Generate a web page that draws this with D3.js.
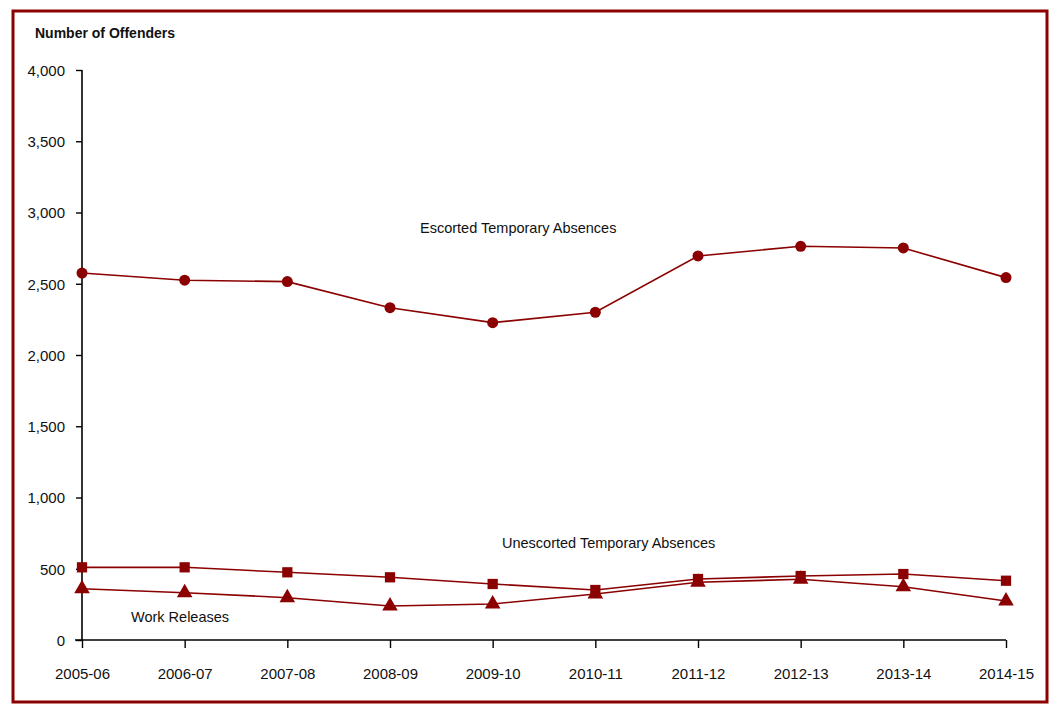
<!DOCTYPE html>
<html>
<head>
<meta charset="utf-8">
<script src="https://cdn.jsdelivr.net/npm/d3@7"></script>
<style>
  body { margin: 0; background: #fff; }
  svg text { font-family: "Liberation Sans", Arial, sans-serif; fill: #111; }
</style>
</head>
<body>
<div class="chart-container"></div>
<script>
var years = ["2005-06", "2006-07", "2007-08", "2008-09", "2009-10",
             "2010-11", "2011-12", "2012-13", "2013-14", "2014-15"];
var escorted = [2575, 2525, 2515, 2332, 2227, 2300, 2695, 2763, 2751, 2543];
var unescorted = [510, 510, 475, 440, 393, 351, 428, 449, 463, 416];
var workReleases = [360, 332, 297, 239, 253, 323, 405, 426, 374, 274];
var yTicks = [0, 500, 1000, 1500, 2000, 2500, 3000, 3500, 4000];

var color = "#8b0000";
var width = 1055, height = 712;
var margin = {top: 70, right: 49, bottom: 72, left: 82};

var svg = d3.select("div.chart-container")
  .append("svg")
  .attr("width", width)
  .attr("height", height);

// frame
svg.append("rect")
  .attr("x", 13).attr("y", 11)
  .attr("width", 1034).attr("height", 691)
  .attr("fill", "none")
  .attr("stroke", color)
  .attr("stroke-width", 3);

var x = d3.scalePoint()
  .domain(years)
  .range([margin.left, width - margin.right]);
var y = d3.scaleLinear()
  .domain([0, 4000])
  .range([height - margin.bottom, margin.top]);

// y axis
var yAxis = svg.append("g")
  .attr("transform", "translate(" + margin.left + ",0)")
  .call(d3.axisLeft(y).tickValues(yTicks).tickFormat(d3.format(",")).tickSize(6).tickPadding(11));
yAxis.select(".domain").attr("stroke", "#000").attr("stroke-width", 1.6).attr("d", "M0," + y(4000) + "V" + y(0));
yAxis.selectAll(".tick line").attr("stroke", "#000").attr("stroke-width", 1.4);
yAxis.selectAll("text").style("font-size", "15px").attr("dy", "0.35em");

// x axis
var xAxis = svg.append("g")
  .attr("transform", "translate(0," + y(0) + ")")
  .call(d3.axisBottom(x).tickSize(8).tickPadding(20));
xAxis.select(".domain").attr("stroke", "#000").attr("stroke-width", 1.6)
  .attr("d", "M" + (margin.left - 7) + ",0H" + x(years[years.length - 1]));
xAxis.selectAll(".tick line").attr("stroke", "#000").attr("stroke-width", 1.4);
xAxis.selectAll("text").style("font-size", "15px");

// title
svg.append("text")
  .attr("x", 35).attr("y", 38)
  .style("font-size", "14px")
  .style("font-weight", "bold")
  .text("Number of Offenders");

var line = d3.line()
  .x(function(d, i) { return x(years[i]); })
  .y(function(d) { return y(d); });

function drawSeries(values, symbolType, size) {
  svg.append("path")
    .datum(values)
    .attr("fill", "none")
    .attr("stroke", color)
    .attr("stroke-width", 1.6)
    .attr("d", line);
  svg.selectAll(null)
    .data(values)
    .enter()
    .append("path")
    .attr("transform", function(d, i) { return "translate(" + x(years[i]) + "," + y(d) + ")"; })
    .attr("d", d3.symbol().type(symbolType).size(size))
    .attr("fill", color);
}

drawSeries(escorted, d3.symbolCircle, 95);
drawSeries(unescorted, d3.symbolSquare, 105);
drawSeries(workReleases, d3.symbolTriangle, 105);

// series labels
var labels = [
  {text: "Escorted Temporary Absences", x: 420, y: 233},
  {text: "Unescorted Temporary Absences", x: 502, y: 548},
  {text: "Work Releases", x: 131, y: 622}
];
svg.selectAll(".series-label")
  .data(labels)
  .enter()
  .append("text")
  .attr("class", "series-label")
  .attr("x", function(d) { return d.x; })
  .attr("y", function(d) { return d.y; })
  .style("font-size", "14.5px")
  .text(function(d) { return d.text; });
</script>
</body>
</html>
